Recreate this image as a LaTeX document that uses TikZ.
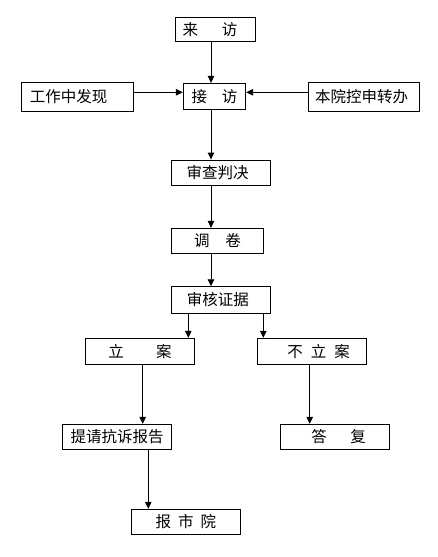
\documentclass[tikz,border=0pt]{standalone}
\usepackage{fontspec}
\newfontfamily\cjk{Noto Sans CJK SC}
\usetikzlibrary{arrows.meta}
\begin{document}
\begin{tikzpicture}[x=1pt,y=-1pt,
  box/.style={draw=black,line width=0.9pt,inner sep=0pt,font=\cjk\fontsize{15.5}{18}\selectfont},
  arr/.style={draw=black,line width=0.9pt,-{Triangle[length=7pt,width=6.5pt]}}]
\useasboundingbox[fill=white] (0,0) rectangle (438,557);
\node[box,minimum width=80.7,minimum height=24.4] (lf) at (215.3,29.5) {来\hspace{24pt}访\kern10.6pt};
\node[box,minimum width=111.6,minimum height=28.3] (gz) at (77.5,96.8) {工作中发现\kern18pt};
\node[box,minimum width=62.4,minimum height=25.7] (jf) at (214.5,96.2) {接\hspace{15pt}访};
\node[box,minimum width=111,minimum height=28.3] (by) at (363.8,96.8) {本院控申转办\kern4.6pt};
\node[box,minimum width=99.3,minimum height=25] (sc) at (220.7,172.5) {审查判决\kern6.4pt};
\node[box,minimum width=91.6,minimum height=25] (dj) at (217.5,240.8) {调\hspace{15.7pt}卷};
\node[box,minimum width=99.3,minimum height=26.6] (sh) at (220.7,300) {审核证据\kern5.8pt};
\node[box,minimum width=108.6,minimum height=26] (la) at (140,351.3) {立\hspace{32.4pt}案};
\node[box,minimum width=109,minimum height=26] (bla) at (312.2,351.3) {\kern12.8pt 不\hspace{8pt}立\hspace{8pt}案};
\node[box,minimum width=109.4,minimum height=25] (tq) at (117,436.8) {提请抗诉报告};
\node[box,minimum width=109.3,minimum height=25] (df) at (334.7,436.8) {\kern8pt 答\hspace{23.5pt}复};
\node[box,minimum width=108.3,minimum height=25] (bs) at (185.8,521.8) {报\hspace{7pt}市\hspace{7pt}院};
\coordinate (spine) at (211,0);
\coordinate (hy) at (0,92.3);
\coordinate (xa) at (188.3,0);
\coordinate (xb) at (263.3,0);
\coordinate (xc) at (142.7,0);
\coordinate (xd) at (309.7,0);
\coordinate (xe) at (148.3,0);
\draw[arr] (lf.south -| spine) -- (jf.north -| spine);
\draw[arr] (gz.east |- hy) -- (jf.west |- hy);
\draw[arr] (by.west |- hy) -- (jf.east |- hy);
\draw[arr] (jf.south -| spine) -- (sc.north -| spine);
\draw[arr] (sc.south -| spine) -- (dj.north -| spine);
\draw[arr] (dj.south -| spine) -- (sh.north -| spine);
\draw[arr] (sh.south -| xa) -- (la.north -| xa);
\draw[arr] (sh.south -| xb) -- (bla.north -| xb);
\draw[arr] (la.south -| xc) -- (tq.north -| xc);
\draw[arr] (bla.south -| xd) -- (df.north -| xd);
\draw[arr] (tq.south -| xe) -- (bs.north -| xe);
\end{tikzpicture}
\end{document}
